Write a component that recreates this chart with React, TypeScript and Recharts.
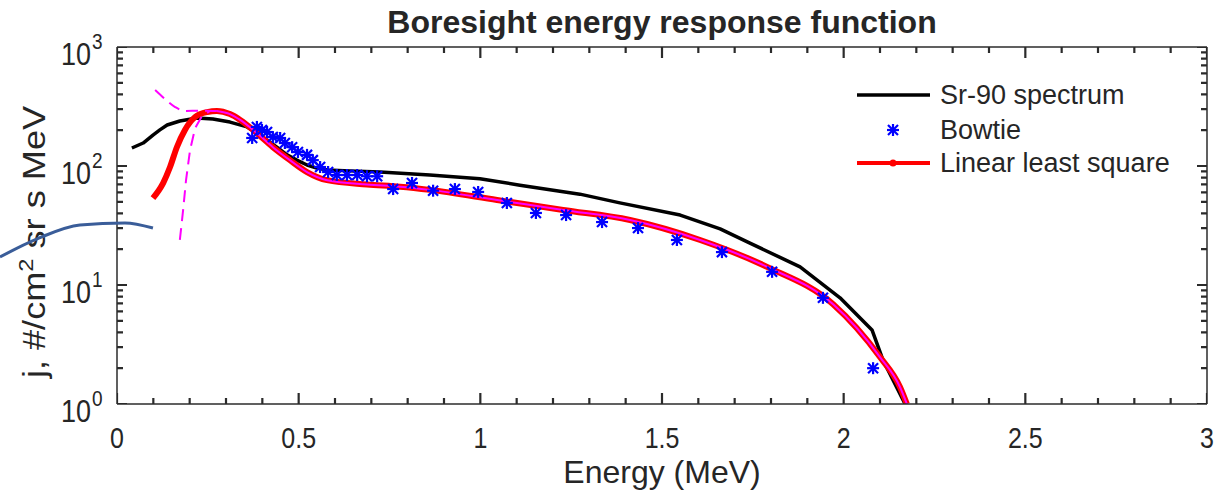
import React from "react";
import { ComposedChart, Line, Scatter, XAxis, YAxis, Legend, Customized } from "recharts";

const FONT = '"Liberation Sans", Arial, Helvetica, sans-serif';
const AXIS = "#2b2b2b";
const INK = "#262626";

// Sr-90 reference spectrum
const srEnergy = [0.041, 0.072, 0.099, 0.118, 0.138, 0.173, 0.22, 0.264, 0.311, 0.358, 0.385, 0.413, 0.44, 0.468, 0.495, 0.523, 0.55, 0.578, 0.641, 0.724, 0.861, 0.999, 1.109, 1.274, 1.384, 1.55, 1.66, 1.742, 1.88, 1.99, 2.078, 2.108, 2.169];
const srFlux = [141.7, 156, 182, 201, 221, 239, 253, 248, 234, 213, 189, 165, 144, 124, 112, 102, 96, 92.5, 91, 89, 84, 78, 69, 58, 49, 38.7, 29.6, 22.5, 14.2, 7.8, 4.19, 2.35, 1.0];

// Bowtie points
const bowtieEnergy = [0.372, 0.385, 0.399, 0.413, 0.429, 0.449, 0.462, 0.482, 0.498, 0.523, 0.539, 0.559, 0.581, 0.605, 0.633, 0.661, 0.688, 0.716, 0.76, 0.812, 0.87, 0.93, 0.994, 1.073, 1.153, 1.236, 1.335, 1.434, 1.541, 1.665, 1.803, 1.943, 2.081];
const bowtieFlux = [172, 213, 201, 193, 175, 172, 156, 144, 131, 124, 112, 98, 89, 84, 84, 84, 82, 82, 64, 72, 62, 64, 60.5, 48.9, 40.3, 38.7, 33.8, 30.1, 23.9, 18.9, 12.9, 7.8, 2.0];

// Linear least square fit
const fitEnergy = [0.099, 0.127, 0.146, 0.165, 0.187, 0.215, 0.248, 0.275, 0.311, 0.339, 0.385, 0.429, 0.476, 0.523, 0.578, 0.688, 0.779, 0.861, 1.046, 1.228, 1.412, 1.605, 1.789, 1.971, 2.1, 2.155, 2.174];
const fitFlux = [53.8, 71.9, 98, 144.5, 201, 258, 284, 290, 273, 244, 189, 144, 112, 89, 76, 70, 67, 63, 51.8, 42.7, 35.2, 23.9, 14.2, 6.9, 2.48, 1.39, 1.0];

// dashed magenta branches near the peak
const upperEnergy = [0.105, 0.132, 0.16, 0.187, 0.228, 0.275];
const upperFlux = [435, 366, 313, 290, 292, 290];
const lowerEnergy = [0.173, 0.182, 0.19, 0.201, 0.215, 0.234, 0.256];
const lowerFlux = [23.9, 42.7, 76, 136, 208, 263, 290];

// blue arc running across the left margin
const arcEnergy = [-0.322, -0.212, -0.102, 0.022, 0.099];
const arcFlux = [17.2, 25, 31.9, 33.2, 30.1];

const xLabels = [0, 0.5, 1, 1.5, 2, 2.5, 3];
const yDecades = [1, 10, 100, 1000];

type Pt = { x: number; y: number | null };
const zip = (xs: number[], ys: number[]): Pt[] => xs.map((x, i) => ({ x, y: ys[i] }));

const srData = zip(srEnergy, srFlux);
const bowtieData = zip(bowtieEnergy, bowtieFlux);
const fitData = zip(fitEnergy, fitFlux);
const magentaTail = fitData.filter((d) => d.x >= 0.275);
const upperData = zip(upperEnergy, upperFlux);
const lowerData = zip(lowerEnergy, lowerFlux);
const arcData = zip(arcEnergy, arcFlux);

// minor ticks every 0.1 MeV, and 2..9 within each decade
const xTicks = Array.from({ length: 31 }, (_, i) => i / 10);
const yTicks = yDecades.slice(0, 3).flatMap((d) => [1, 2, 3, 4, 5, 6, 7, 8, 9].map((m) => d * m)).concat([1000]);

const isMajorX = (v: number) => xLabels.some((l) => Math.abs(l - v) < 1e-6);
const isMajorY = (v: number) => yDecades.some((d) => Math.abs(d - v) < 1e-6);

// inward tick lengths in data units (plot is 1090 px for 3 MeV, 119 px per decade)
const xTickLen = (px: number) => (px * 3) / 1090;
const yTickFactor = (px: number) => Math.pow(10, px / 119);

// each tick is a short segment; a null point breaks the path between ticks
const bottomTicks: Pt[] = xTicks.flatMap((v) => {
  const f = yTickFactor(isMajorX(v) ? 11 : 6);
  return [{ x: v, y: 1 }, { x: v, y: f }, { x: v, y: null }];
});
const topTicks: Pt[] = xTicks.flatMap((v) => {
  const f = yTickFactor(isMajorX(v) ? 11 : 6);
  return [{ x: v, y: 1000 }, { x: v, y: 1000 / f }, { x: v, y: null }];
});
const leftTicks: Pt[] = yTicks.flatMap((v) => {
  const d = xTickLen(isMajorY(v) ? 10 : 6);
  return [{ x: 0, y: v }, { x: d, y: v }, { x: d, y: null }];
});
const rightTicks: Pt[] = yTicks.flatMap((v) => {
  const d = xTickLen(isMajorY(v) ? 10 : 6);
  return [{ x: 3, y: v }, { x: 3 - d, y: v }, { x: 3 - d, y: null }];
});

const XLabel = ({ x, y, payload }: any) => {
  const v = payload.value;
  if (!isMajorX(v)) return <g />;
  return (
    <text transform={`translate(${x},${y + 44}) scale(1,1.18)`} textAnchor="middle" fontSize={25} fill={INK} fontFamily={FONT}>
      {String(Math.round(v * 10) / 10)}
    </text>
  );
};

const YLabel = ({ x, y, payload }: any) => {
  const v = payload.value;
  if (!isMajorY(v)) return <g />;
  return (
    <g fill={INK} fontFamily={FONT}>
      <text transform={`translate(${x - 26},${y + 18}) scale(1,1.15)`} textAnchor="end" fontSize={27}>10</text>
      <text transform={`translate(${x - 25},${y + 2}) scale(1,1.15)`} textAnchor="start" fontSize={19}>{Math.round(Math.log10(v))}</text>
    </g>
  );
};

const Star = ({ cx, cy }: any) => (
  <g stroke="#0000ff" strokeWidth={2.2}>
    <line x1={cx - 5} y1={cy - 5} x2={cx + 5} y2={cy + 5} />
    <line x1={cx - 5} y1={cy + 5} x2={cx + 5} y2={cy - 5} />
    <line x1={cx} y1={cy - 6} x2={cx} y2={cy + 6} />
    <line x1={cx - 6} y1={cy} x2={cx + 6} y2={cy} />
  </g>
);

const LegendBox = () => (
  <svg width={360} height={110} style={{ fontFamily: FONT }}>
    <line x1={7} y1={23} x2={80} y2={23} stroke="#000" strokeWidth={3.5} />
    <text x={90} y={32} fontSize={27} fill={INK}>Sr-90 spectrum</text>
    <Star cx={43} cy={58} />
    <text x={90} y={67} fontSize={27} fill={INK}>Bowtie</text>
    <line x1={7} y1={91} x2={80} y2={91} stroke="#ff0000" strokeWidth={4} />
    <circle cx={43} cy={91} r={3.5} fill="#ff0000" />
    <text x={90} y={100} fontSize={27} fill={INK}>Linear least square</text>
  </svg>
);

const Texts = () => (
  <g fontFamily={FONT} fill={INK}>
    <text x={662} y={33} textAnchor="middle" fontSize={32} fontWeight="bold">
      Boresight energy response function
    </text>
    <text x={662} y={483} textAnchor="middle" fontSize={32}>
      Energy (MeV)
    </text>
    <text transform="translate(45,242) rotate(-90) scale(1.13,1)" textAnchor="middle" fontSize={32}>
      j, #/cm<tspan dy={-12} fontSize={21}>2</tspan>
      <tspan dy={12}> sr s MeV</tspan>
    </text>
  </g>
);

const tickLine = (key: string, data: Pt[]) => (
  <Line
    key={key}
    xAxisId="b"
    yAxisId="l"
    data={data}
    dataKey="y"
    type="linear"
    stroke={AXIS}
    strokeWidth={2.2}
    dot={false}
    activeDot={false}
    legendType="none"
    isAnimationActive={false}
  />
);

export default function App() {
  return (
    <div style={{ position: "absolute", left: 0, top: 0, width: 1222, height: 495, background: "#fff", fontFamily: FONT }}>
      <ComposedChart width={1222} height={495} margin={{ top: 46, right: 14, bottom: 0, left: 0 }}>
        <XAxis
          xAxisId="b"
          dataKey="x"
          type="number"
          domain={[0, 3]}
          allowDataOverflow
          ticks={xTicks}
          interval={0}
          height={91}
          tickSize={0}
          tickMargin={0}
          tickLine={false}
          axisLine={{ stroke: AXIS, strokeWidth: 1.5 }}
          tick={(p: any) => <XLabel {...p} />}
        />
        <XAxis
          xAxisId="t"
          orientation="top"
          dataKey="x"
          type="number"
          domain={[0, 3]}
          allowDataOverflow
          height={1}
          tick={false}
          tickLine={false}
          axisLine={{ stroke: AXIS, strokeWidth: 1.5 }}
        />
        <YAxis
          yAxisId="l"
          dataKey="y"
          type="number"
          scale="log"
          domain={[1, 1000]}
          allowDataOverflow
          ticks={yTicks}
          interval={0}
          width={117}
          tickSize={0}
          tickMargin={0}
          tickLine={false}
          axisLine={{ stroke: AXIS, strokeWidth: 1.5 }}
          tick={(p: any) => <YLabel {...p} />}
        />
        <YAxis
          yAxisId="r"
          orientation="right"
          dataKey="y"
          type="number"
          scale="log"
          domain={[1, 1000]}
          allowDataOverflow
          width={1}
          tick={false}
          tickLine={false}
          axisLine={{ stroke: AXIS, strokeWidth: 1.5 }}
        />
        {tickLine("tb", bottomTicks)}
        {tickLine("tt", topTicks)}
        {tickLine("tl", leftTicks)}
        {tickLine("tr", rightTicks)}
        <Line xAxisId="b" yAxisId="l" data={srData} dataKey="y" type="linear" stroke="#000" strokeWidth={3.5} strokeLinejoin="round" dot={false} activeDot={false} isAnimationActive={false} />
        <Scatter xAxisId="b" yAxisId="l" data={bowtieData} dataKey="y" shape={<Star />} isAnimationActive={false} />
        <Line xAxisId="b" yAxisId="l" data={fitData} dataKey="y" type="monotone" stroke="#ff0000" strokeWidth={6} dot={false} activeDot={false} isAnimationActive={false} />
        <Line xAxisId="b" yAxisId="l" data={magentaTail} dataKey="y" type="monotone" stroke="#ff00ff" strokeWidth={2} dot={false} activeDot={false} isAnimationActive={false} />
        <Line xAxisId="b" yAxisId="l" data={upperData} dataKey="y" type="monotone" stroke="#ff00ff" strokeWidth={2} strokeDasharray="12 7" dot={false} activeDot={false} isAnimationActive={false} />
        <Line xAxisId="b" yAxisId="l" data={lowerData} dataKey="y" type="linear" stroke="#ff00ff" strokeWidth={2} strokeDasharray="12 7" dot={false} activeDot={false} isAnimationActive={false} />
        <Legend
          layout="vertical"
          align="center"
          verticalAlign="middle"
          wrapperStyle={{ top: 72, left: 850, width: 360, height: 110 }}
          content={() => <LegendBox />}
        />
        <Customized component={<Texts />} />
      </ComposedChart>
      {/* arc overlay: plot area starts at the page edge, so the x domain begins left of 0 */}
      <div style={{ position: "absolute", left: 0, top: 0, pointerEvents: "none" }}>
        <ComposedChart width={1222} height={495} margin={{ top: 47, right: 15, bottom: 91, left: 0 }}>
          <XAxis dataKey="x" type="number" domain={[-0.322, 3]} allowDataOverflow hide />
          <YAxis dataKey="y" type="number" scale="log" domain={[1, 1000]} allowDataOverflow hide />
          <Line data={arcData} dataKey="y" type="monotone" stroke="#3a5d99" strokeWidth={3} dot={false} activeDot={false} isAnimationActive={false} />
        </ComposedChart>
      </div>
    </div>
  );
}
